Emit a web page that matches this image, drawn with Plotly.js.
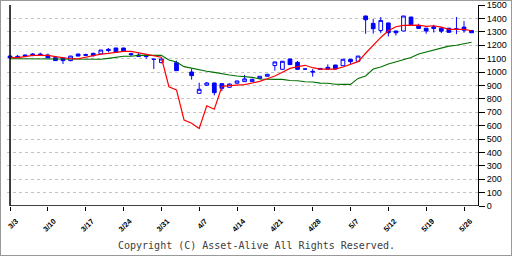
<!DOCTYPE html>
<html><head><meta charset="utf-8">
<script src="https://cdn.plot.ly/plotly-3.0.1.min.js"></script>
<style>
html,body{margin:0;padding:0;background:#fff;}
#frame{position:absolute;left:0;top:0;width:510px;height:254px;border:1px solid #999;background:#fff;}
#chart{width:510px;height:254px;}
</style></head>
<body><div id="frame"><div id="chart"></div></div>
<script>
// x tick positions (trading-day index) and labels
const tickIdx = [0, 5, 10, 15, 20, 25, 30, 35, 40, 45, 50, 55, 60];
const tickLabels = ['3/3','3/10','3/17','3/24','3/31','4/7','4/14','4/21','4/28','5/7','5/12','5/19','5/26'];
const yTicks = [0,100,200,300,400,500,600,700,800,900,1000,1100,1200,1300,1400,1500];

// daily OHLC (null = no data that day)
const openP = [1119,1117,1127,1134,1134,1127,1107,1105,1085,1134,1130,1139,1134,1169,1179,1179,1137,1127,1127,1095,1070,null,1070,null,1000,841,901,918,913,886,916,928,928,952,968,1048,1020,1097,1072,1022,1005,1027,1035,1052,1047,1095,1080,1418,1363,1310,1366,1306,1306,1410,1343,1327,1337,1327,1327,1322,1335,1310];
const highP = [1122,1127,1129,1142,1144,1137,1110,1107,1119,1137,1137,1144,1164,1179,1181,1181,1144,1144,1129,1095,1097,null,1085,null,1025,920,925,920,916,915,935,978,950,970,985,1077,1082,1099,1082,1024,1022,1028,1057,1054,1095,1097,1119,1420,1395,1410,1368,1308,1418,1412,1360,1329,1352,1336,1329,1410,1380,1312];
const lowP = [1105,1105,1115,1117,1122,1105,1085,1060,1080,1117,1120,1115,1132,1147,1147,1157,1119,1115,1100,1022,1065,null,1010,null,943,838,898,826,858,884,914,926,925,950,966,1010,1018,1055,1018,1020,965,1018,1018,1020,1045,1060,1078,1285,1286,1290,1265,1272,1304,1352,1323,1286,1295,1290,1296,1283,1293,1293];
const closeP = [1107,1107,1117,1124,1124,1105,1085,1085,1119,1119,1125,1122,1164,1160,1147,1157,1130,1117,1115,1095,1097,null,1010,null,973,871,918,846,878,910,933,948,945,968,983,1075,1080,1055,1020,1022,1000,1020,1020,1022,1095,1077,1119,1390,1323,1385,1293,1293,1418,1352,1325,1306,1325,1305,1296,1320,1312,1293];

// moving-average lines
const maShort = [1107,1107,1115,1124,1124,1124,1115,1107,1099,1099,1110,1119,1134,1139,1147,1154,1154,1143,1134,1126,1110,890,866,642,617,578,748,722,892,898,900,906,918,930,950,970,998,1027,1040,1050,1032,1022,1022,1022,1037,1055,1077,1140,1200,1258,1308,1338,1348,1350,1350,1340,1345,1335,1318,1318,1318,1308];
const maLong = [1099,1099,1099,1099,1099,1099,1095,1095,1095,1095,1095,1095,1095,1102,1110,1117,1117,1124,1124,1124,1124,1090,1074,1040,1028,1014,1005,997,985,977,970,965,960,948,945,945,945,937,935,927,925,917,916,909,908,908,952,970,1022,1038,1060,1075,1092,1108,1135,1150,1165,1180,1193,1200,1210,1222];

const dayIdx = openP.map((_, i) => i);
const keep = dayIdx.filter(i => openP[i] !== null);

const candles = {
  type: 'candlestick',
  x: keep,
  open: keep.map(i => openP[i]),
  high: keep.map(i => highP[i]),
  low: keep.map(i => lowP[i]),
  close: keep.map(i => closeP[i]),
  increasing: {line: {color: '#0000ff', width: 1}, fillcolor: '#ffffff'},
  decreasing: {line: {color: '#0000ff', width: 1}, fillcolor: '#0000ff'},
  whiskerwidth: 0,
  hoverinfo: 'skip',
  showlegend: false
};
const longLine = {
  type: 'scatter', mode: 'lines', x: dayIdx, y: maLong,
  line: {color: '#007000', width: 1.1}, hoverinfo: 'skip', showlegend: false
};
const shortLine = {
  type: 'scatter', mode: 'lines', x: dayIdx, y: maShort,
  line: {color: '#ff0000', width: 1.2}, hoverinfo: 'skip', showlegend: false
};

const xMax = 61.85;
const layout = {
  width: 510, height: 254,
  margin: {l: 6, r: 33, t: 4, b: 49},
  paper_bgcolor: '#ffffff', plot_bgcolor: '#ffffff',
  showlegend: false,
  xaxis: {
    type: 'linear', range: [-0.4, xMax],
    tickmode: 'array', tickvals: tickIdx, ticktext: tickLabels,
    tickangle: -45, ticks: 'outside', ticklen: 4, tickcolor: '#000', tickwidth: 1,
    ticklabelshift: 6, ticklabelstandoff: 3, ticklabeloverflow: 'allow',
    showgrid: false, zeroline: false, showline: false,
    rangeslider: {visible: false},
    tickfont: {family: 'Liberation Sans, Arial, sans-serif', size: 7.5, color: '#000', weight: 'bold'},
    fixedrange: true
  },
  yaxis: {
    side: 'right', range: [0, 1500],
    tickmode: 'array', tickvals: yTicks, ticktext: yTicks.map(String),
    ticklabeloverflow: 'allow',
    showgrid: true, gridcolor: '#c4c4c4', gridwidth: 1, griddash: '3px,3px',
    zeroline: false, showline: true, linecolor: '#000', linewidth: 1,
    ticks: 'outside', ticklen: 6, tickcolor: '#000', tickwidth: 1,
    tickfont: {family: 'Liberation Sans, Arial, sans-serif', size: 9, color: '#000'},
    fixedrange: true
  },
  shapes: [
    {type: 'line', xref: 'x', yref: 'paper', x0: 0, x1: 0, y0: 0, y1: 1, line: {color: '#000', width: 1.5}},
    {type: 'line', xref: 'x', yref: 'y', x0: 0, x1: xMax, y0: 0, y1: 0, line: {color: '#000', width: 1.5}}
  ],
  annotations: [{
    text: 'Copyright (C) Asset-Alive All Rights Reserved.',
    xref: 'paper', yref: 'paper', x: 0.5287, y: -0.199,
    xanchor: 'center', yanchor: 'middle', showarrow: false,
    font: {family: 'DejaVu Sans Mono, monospace', size: 10, color: '#404040'}
  }]
};

Plotly.newPlot('chart', [candles, longLine, shortLine], layout, {staticPlot: true, displayModeBar: false});
</script>
</body></html>
